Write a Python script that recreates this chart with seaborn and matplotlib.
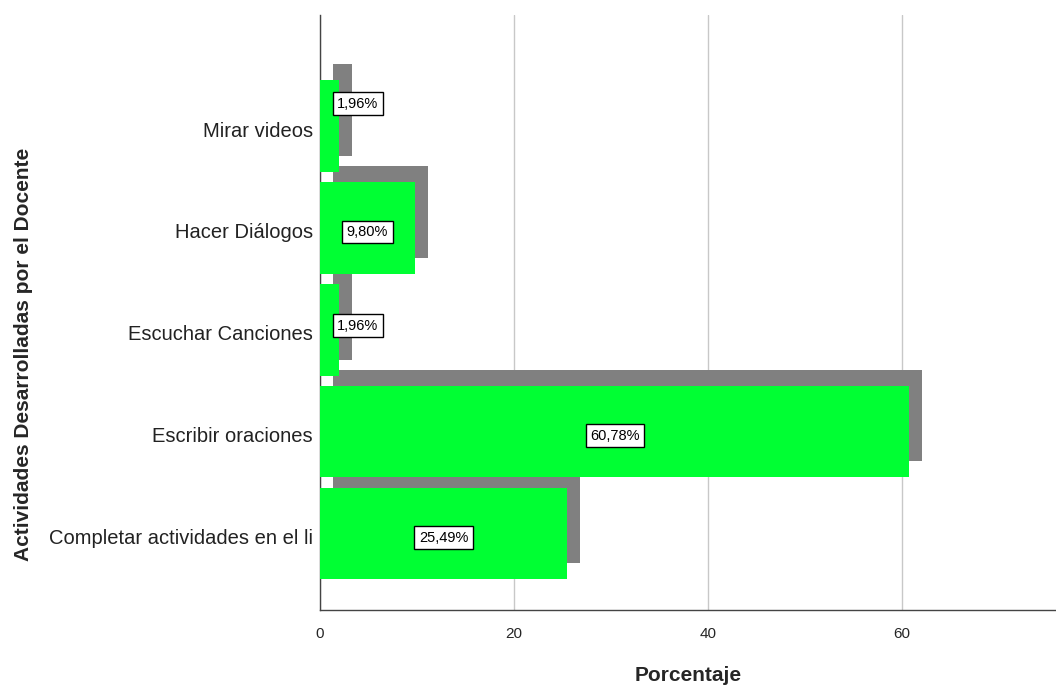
import matplotlib
matplotlib.use("Agg")
import matplotlib.pyplot as plt
import matplotlib.transforms as mtransforms
import seaborn as sns
import pandas as pd
from matplotlib import font_manager

# Data
categories = [
    "Mirar videos",
    "Hacer Diálogos",
    "Escuchar Canciones",
    "Escribir oraciones",
    "Completar actividades en el li",
]
percentages = [1.96, 9.80, 1.96, 60.78, 25.49]
value_labels = ["1,96%", "9,80%", "1,96%", "60,78%", "25,49%"]
x_ticks = [0, 20, 40, 60]

df = pd.DataFrame({"Actividad": categories, "Porcentaje": percentages})

sns.set_theme(style="white")
names = {f.name for f in font_manager.fontManager.ttflist}
narrow = "Liberation Sans Narrow" if "Liberation Sans Narrow" in names else "Liberation Sans"
plt.rcParams["font.family"] = [narrow, "DejaVu Sans"]

fig = plt.figure(figsize=(10.56, 6.86), dpi=100)
ax = fig.add_axes([0.303, 0.111, 0.697, 0.867])

GREEN = "#00ff33"
SHADOW = "#808080"

# Shadow bars: same data, shifted right/up in screen space
sns.barplot(data=df, y="Actividad", x="Porcentaje", orient="h", color=SHADOW,
            saturation=1, width=0.9, ax=ax, zorder=2)
n_shadow = len(ax.patches)
shift = mtransforms.ScaledTranslation(13 / 100, 16 / 100, fig.dpi_scale_trans)
for p in ax.patches[:n_shadow]:
    p.set_transform(ax.transData + shift)
    p.set_linewidth(0)

# Main bars
sns.barplot(data=df, y="Actividad", x="Porcentaje", orient="h", color=GREEN,
            saturation=1, width=0.9, ax=ax, zorder=3)
for p in ax.patches[n_shadow:]:
    p.set_linewidth(0)

# Value labels in boxed text
label_dy = [-0.22, 0.04, -0.04, 0.04, 0.04]
for i, (v, t) in enumerate(zip(percentages, value_labels)):
    xc = max(v / 2, 3.9)
    ax.text(xc, i + label_dy[i], t, ha="center", va="center", fontsize=10.5,
            color="black", zorder=5,
            bbox=dict(boxstyle="square,pad=0.3", fc="white", ec="black", lw=1))

ax.set_xlim(0, 75.9)
ax.set_ylim(4.75, -1.09)
ax.set_xticks(x_ticks)
ax.set_xticklabels([str(t) for t in x_ticks], fontsize=11)
ax.tick_params(axis="y", labelsize=14.5, length=0, pad=5)
ax.tick_params(axis="x", length=0, pad=12)
label_shift = mtransforms.ScaledTranslation(0, -3 / 100, fig.dpi_scale_trans)
for lbl in ax.get_yticklabels():
    lbl.set_color("#222222")
    lbl.set_transform(lbl.get_transform() + label_shift)

ax.xaxis.grid(True, color="#c8c8c8", linewidth=1)
ax.yaxis.grid(False)
ax.set_axisbelow(True)

for side in ("top", "right"):
    ax.spines[side].set_visible(False)
ax.spines["left"].set_color("#444444")
ax.spines["bottom"].set_color("#444444")
ax.spines["left"].set_linewidth(1)
ax.spines["bottom"].set_linewidth(1)

ax.set_xlabel("Porcentaje", fontsize=15, fontweight="bold", labelpad=18,
              family=["Liberation Sans", "DejaVu Sans"])
ax.set_ylabel("Actividades Desarrolladas por el Docente", fontsize=15,
              fontweight="bold", family=["Liberation Sans", "DejaVu Sans"])
ax.yaxis.set_label_coords(-0.39, 0.43)

fig.savefig("out.png", dpi=100)
